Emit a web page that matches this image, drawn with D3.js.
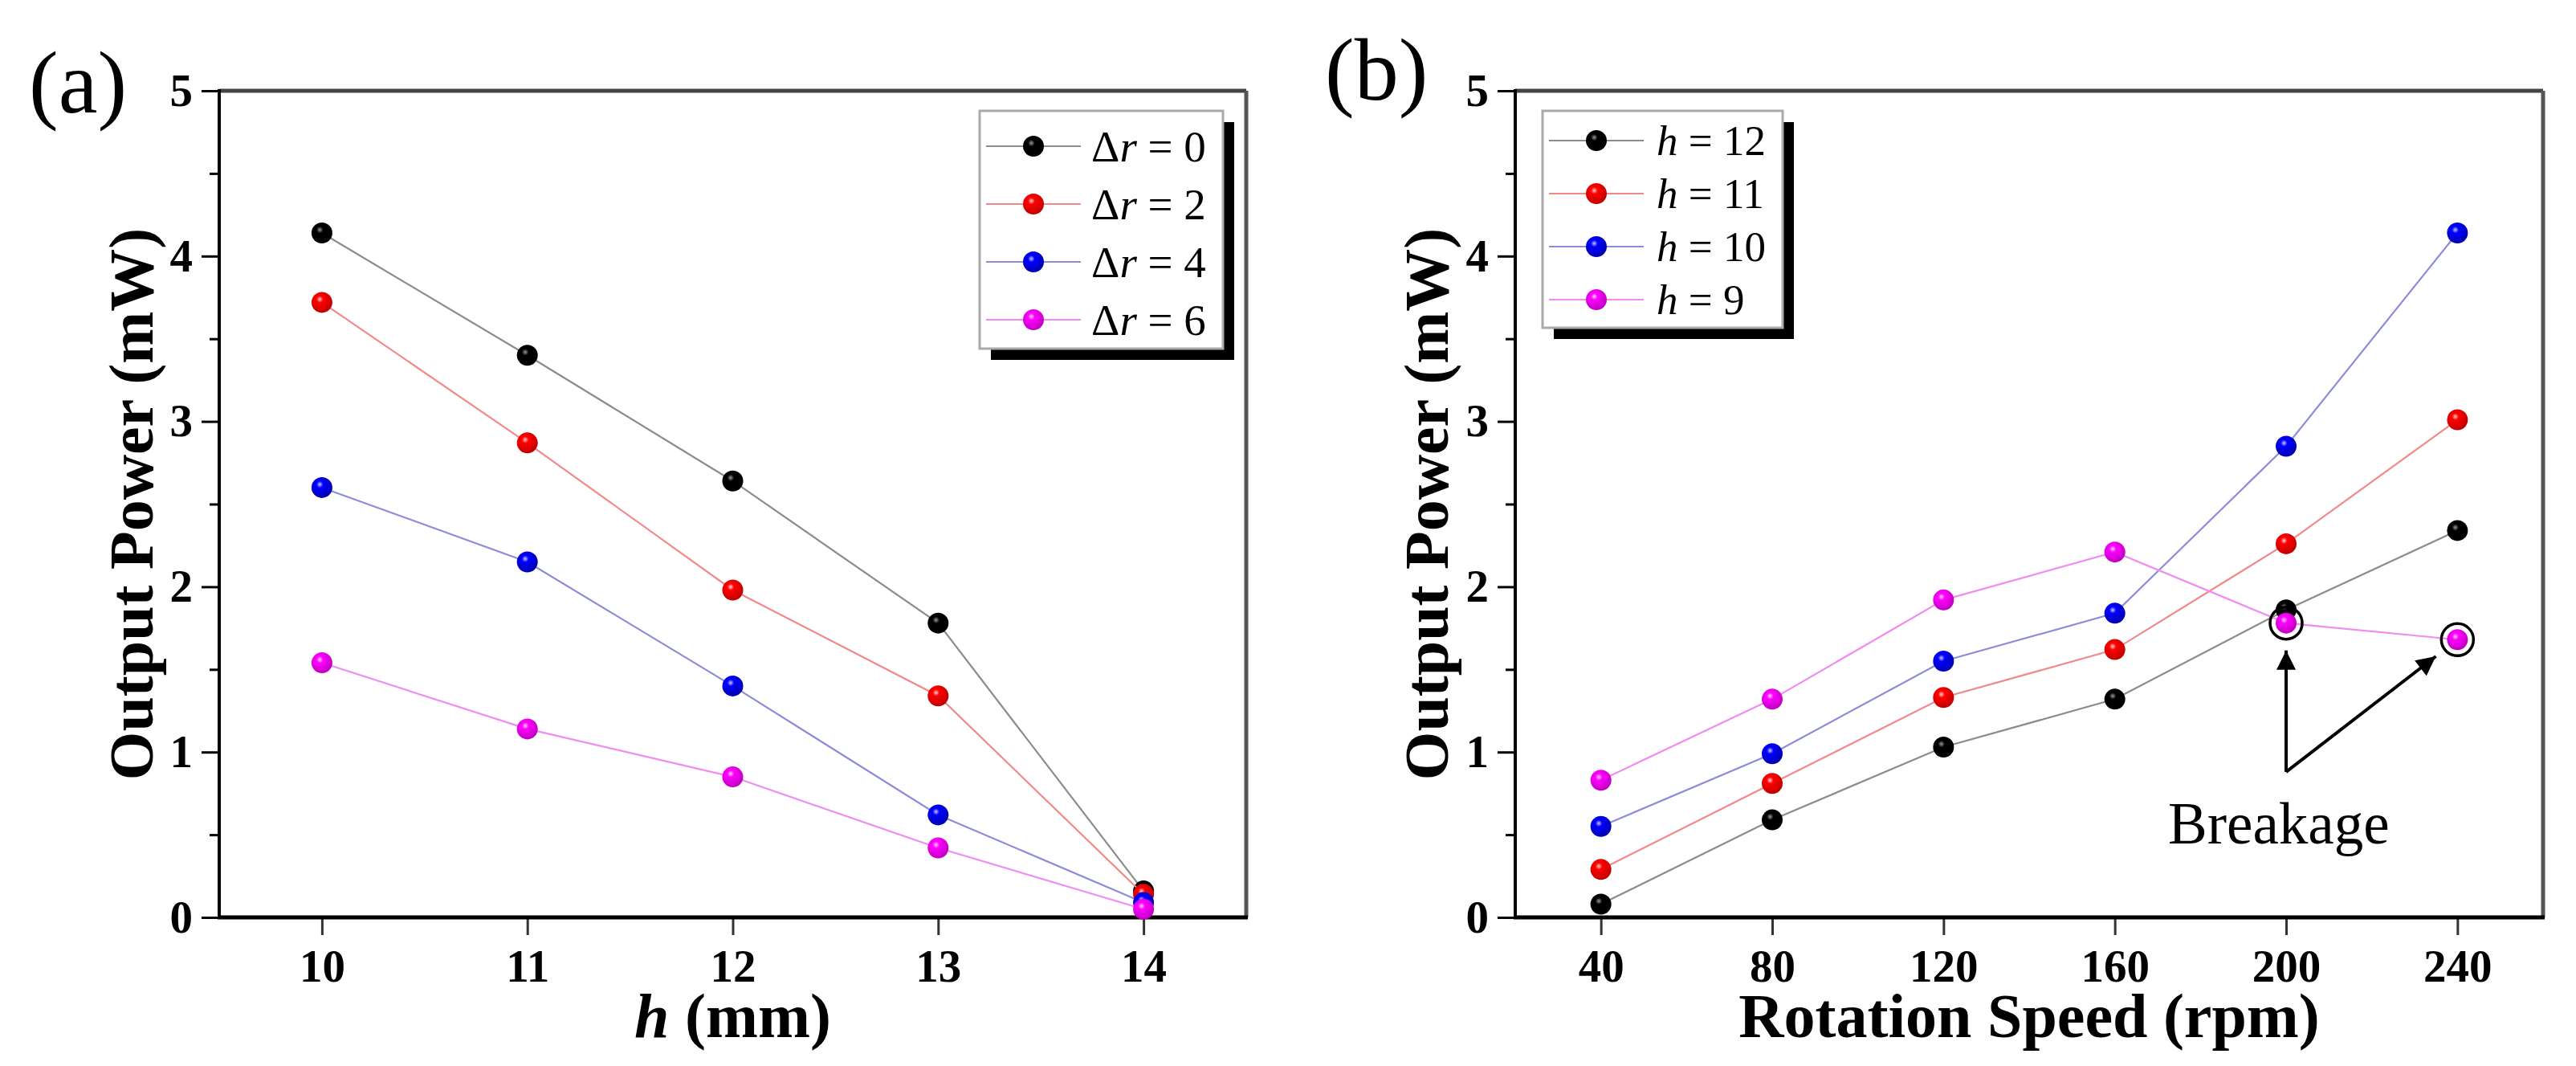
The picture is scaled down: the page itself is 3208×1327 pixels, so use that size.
<!DOCTYPE html>
<html>
<head>
<meta charset="utf-8">
<script src="https://cdn.jsdelivr.net/npm/d3@7"></script>
<style>
  body { margin: 0; background: #fff; }
  text { font-family: "Liberation Serif", "Times New Roman", serif; }
</style>
</head>
<body>
<svg id="chart" width="3208" height="1327"></svg>
<script>
// panel (a): output power vs h for several delta r
var hValues = [10, 11, 12, 13, 14];
var dr0 = [4.14, 3.40, 2.64, 1.78, 0.16];
var dr2 = [3.72, 2.87, 1.98, 1.34, 0.14];
var dr4 = [2.60, 2.15, 1.40, 0.62, 0.09];
var dr6 = [1.54, 1.14, 0.85, 0.42, 0.05];
var seriesA = ["\u0394r = 0", "\u0394r = 2", "\u0394r = 4", "\u0394r = 6"];

// panel (b): output power vs rotation speed for several h
var rpmValues = [40, 80, 120, 160, 200, 240];
var h12 = [0.08, 0.59, 1.03, 1.32, 1.86, 2.34];
var h11 = [0.29, 0.81, 1.33, 1.62, 2.26, 3.01];
var h10 = [0.55, 0.99, 1.55, 1.84, 2.85, 4.14];
var h9  = [0.83, 1.32, 1.92, 2.21, 1.78, 1.68];
var seriesB = ["12", "11", "10", "9"];

var yTicks = [0, 1, 2, 3, 4, 5];
var yMinor = [0.5, 1.5, 2.5, 3.5, 4.5];
var breakIdx = [4, 5];   // broken points of h = 9

var markerCol = ["#000000", "#ff0000", "#0000ff", "#ff00ff"];
var lineCol = ["#8c8c8c", "#f08a8a", "#8c8cd8", "#f08cf0"];
var hiCol = ["#9a9a9a", "#ffd0d0", "#c8c8ff", "#ffd0ff"];
var darkCol = ["#000000", "#c00000", "#0000b0", "#c000c0"];

var svg = d3.select("#chart");
var defs = svg.append("defs");

markerCol.forEach(function(c, i) {
  var g = defs.append("radialGradient").attr("id", "ball" + i)
    .attr("cx", "40%").attr("cy", "35%").attr("r", "65%");
  g.append("stop").attr("offset", "0%").attr("stop-color", hiCol[i]);
  g.append("stop").attr("offset", "25%").attr("stop-color", c);
  g.append("stop").attr("offset", "100%").attr("stop-color", darkCol[i]);
});

defs.append("marker").attr("id", "arrow")
  .attr("viewBox", "0 0 10 10").attr("refX", 10).attr("refY", 5)
  .attr("markerWidth", 7).attr("markerHeight", 6).attr("markerUnits", "strokeWidth")
  .attr("orient", "auto")
  .append("path").attr("d", "M0,0 L10,5 L0,10 z").attr("fill", "#000");

var plotTop = 113, plotBottom = 1142;
var y = d3.scaleLinear().domain([0, 5]).range([plotBottom, plotTop]);

function panel(opt) {
  var x = d3.scaleLinear().domain(opt.domain).range([opt.left, opt.right]);
  var g = svg.append("g");

  // minor y ticks
  g.append("g").attr("transform", "translate(" + opt.left + ",0)")
    .call(d3.axisLeft(y).tickValues(yMinor).tickSize(12).tickFormat(""))
    .call(function(s) { s.select(".domain").remove(); s.selectAll("line").attr("stroke-width", 3); });

  // major y ticks
  g.append("g").attr("transform", "translate(" + opt.left + ",0)")
    .call(d3.axisLeft(y).tickValues(yTicks).tickSize(22).tickPadding(11).tickFormat(d3.format("d")))
    .call(function(s) {
      s.select(".domain").remove();
      s.selectAll("line").attr("stroke-width", 3);
      s.selectAll("text").attr("font-size", 57).attr("font-weight", "bold")
        .attr("font-family", "Liberation Serif").attr("fill", "#000");
    });

  // x ticks
  g.append("g").attr("transform", "translate(0," + plotBottom + ")")
    .call(d3.axisBottom(x).tickValues(opt.ticks).tickSize(22).tickPadding(18).tickFormat(d3.format("d")))
    .call(function(s) {
      s.select(".domain").remove();
      s.selectAll("line").attr("stroke", "#333").attr("stroke-width", 3);
      s.selectAll("text").attr("font-size", 57).attr("font-weight", "bold")
        .attr("font-family", "Liberation Serif").attr("fill", "#000");
    });

  // frame
  g.append("line").attr("x1", opt.left).attr("x2", opt.right).attr("y1", plotTop).attr("y2", plotTop)
    .attr("stroke", "#444").attr("stroke-width", 5);
  g.append("line").attr("x1", opt.right).attr("x2", opt.right).attr("y1", plotTop).attr("y2", plotBottom)
    .attr("stroke", "#555").attr("stroke-width", 5);
  g.append("line").attr("x1", opt.left).attr("x2", opt.left).attr("y1", plotTop - 2).attr("y2", plotBottom)
    .attr("stroke", "#000").attr("stroke-width", 4);
  g.append("line").attr("x1", opt.left - 2).attr("x2", opt.right + 2).attr("y1", plotBottom).attr("y2", plotBottom)
    .attr("stroke", "#000").attr("stroke-width", 5);

  // series
  var line = d3.line().x(function(d) { return x(d[0]); }).y(function(d) { return y(d[1]); });
  opt.series.forEach(function(vals, i) {
    var pts = opt.xs.map(function(v, j) { return [v, vals[j]]; });
    g.append("path").datum(pts).attr("d", line).attr("fill", "none")
      .attr("stroke", lineCol[i]).attr("stroke-width", 2.2);
    g.selectAll(null).data(pts).enter().append("circle")
      .attr("cx", function(d) { return x(d[0]); })
      .attr("cy", function(d) { return y(d[1]); })
      .attr("r", 13).attr("fill", "url(#ball" + i + ")");
  });

  // legend
  var L = opt.legend;
  g.append("rect").attr("x", L.x + 14).attr("y", L.y + 14).attr("width", L.w).attr("height", L.h)
    .attr("fill", "#000");
  g.append("rect").attr("x", L.x).attr("y", L.y).attr("width", L.w).attr("height", L.h)
    .attr("fill", "#fff").attr("stroke", "#aaa").attr("stroke-width", 3);
  opt.labels.forEach(function(lab, i) {
    var ry = L.y + L.first + i * L.step;
    g.append("line").attr("x1", L.x + 8).attr("x2", L.x + 126).attr("y1", ry).attr("y2", ry)
      .attr("stroke", lineCol[i]).attr("stroke-width", 2.2);
    g.append("circle").attr("cx", L.x + 67).attr("cy", ry).attr("r", 13).attr("fill", "url(#ball" + i + ")");
    var t = g.append("text").attr("x", L.x + L.tx).attr("y", ry + L.fs * 0.34)
      .attr("font-size", L.fs).attr("fill", "#000");
    opt.labelFn(t, lab);
  });

  // panel letter
  g.append("text").attr("x", opt.letterX).attr("y", opt.letterY).attr("font-size", 110)
    .text(opt.letter);

  // axis titles
  g.append("text")
    .attr("transform", "translate(" + opt.ytitleX + "," + (plotTop + plotBottom) / 2 + ") rotate(-90)")
    .attr("text-anchor", "middle").attr("font-size", 78).attr("font-weight", "bold")
    .text("Output Power (mW)");
  var xt = g.append("text").attr("x", (opt.left + opt.right) / 2).attr("y", 1291)
    .attr("text-anchor", "middle").attr("font-size", 78).attr("font-weight", "bold");
  opt.xtitleFn(xt);

  return { g: g, x: x };
}

var pa = panel({
  left: 273, right: 1552, domain: [9.5, 14.5], ticks: hValues, xs: hValues,
  series: [dr0, dr2, dr4, dr6], labels: seriesA,
  legend: { x: 1220, y: 138, w: 303, h: 296, first: 44, step: 72, tx: 139, fs: 55 },
  labelFn: function(t, lab) {
    t.append("tspan").text("\u0394");
    t.append("tspan").attr("font-style", "italic").text("r");
    t.append("tspan").text(lab.slice(2));
  },
  letter: "(a)", letterX: 36, letterY: 140, ytitleX: 190,
  xtitleFn: function(t) {
    t.append("tspan").attr("font-style", "italic").text("h");
    t.append("tspan").text(" (mm)");
  }
});

var pb = panel({
  left: 1887, right: 3167, domain: [20, 260], ticks: rpmValues, xs: rpmValues,
  series: [h12, h11, h10, h9], labels: seriesB,
  legend: { x: 1921, y: 138, w: 299, h: 270, first: 37, step: 66, tx: 142, fs: 53 },
  labelFn: function(t, lab) {
    t.append("tspan").attr("font-style", "italic").text("h");
    t.append("tspan").text(" = " + lab);
  },
  letter: "(b)", letterX: 1650, letterY: 124, ytitleX: 1803,
  xtitleFn: function(t) { t.text("Rotation Speed (rpm)"); }
});

// breakage rings and arrows
var xb = pb.x;
pb.g.selectAll(null).data(breakIdx).enter().append("circle")
  .attr("cx", function(i) { return xb(rpmValues[i]); })
  .attr("cy", function(i) { return y(h9[i]); })
  .attr("r", 20).attr("fill", "none").attr("stroke", "#000").attr("stroke-width", 3.5);

var base = [xb(200), y(0.88)];
breakIdx.forEach(function(i) {
  var tx = xb(rpmValues[i]), ty = y(h9[i]);
  var dx = tx - base[0], dy = ty - base[1], len = Math.sqrt(dx * dx + dy * dy);
  var k = (len - 34) / len;
  pb.g.append("line").attr("x1", base[0]).attr("y1", base[1])
    .attr("x2", base[0] + dx * k).attr("y2", base[1] + dy * k)
    .attr("stroke", "#000").attr("stroke-width", 4).attr("marker-end", "url(#arrow)");
});

pb.g.append("text").attr("x", 2700).attr("y", 1050).attr("font-size", 73).text("Breakage");
</script>
</body>
</html>
